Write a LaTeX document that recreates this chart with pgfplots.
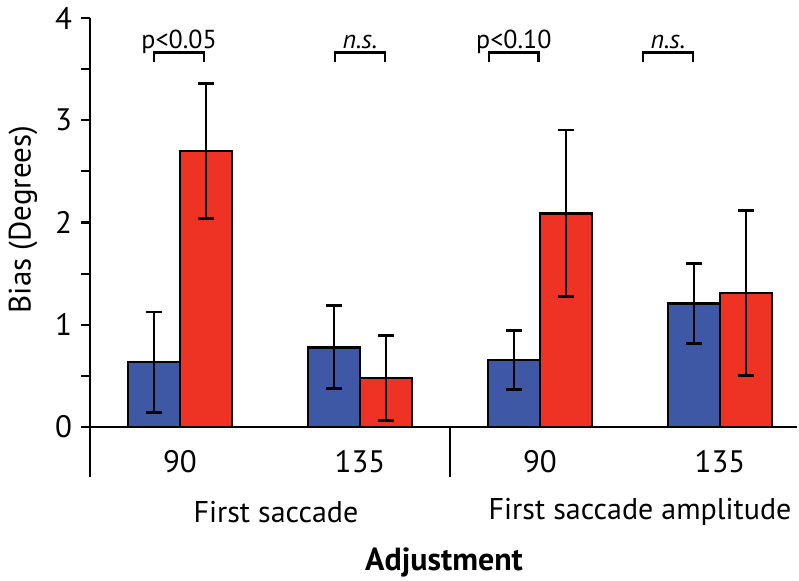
\documentclass[border=0pt]{standalone}
\usepackage{pgfplots}
\pgfplotsset{compat=1.18}
\usepackage{fontspec}
\setmainfont{PT Sans}
\definecolor{barblue}{RGB}{62,88,166}
\definecolor{barred}{RGB}{238,51,36}
\begin{document}
\begin{tikzpicture}
\begin{axis}[name=ax, scale only axis, width=353.5pt, height=204.5pt,
 xmin=0.5, xmax=4.428, ymin=0, ymax=4,
 axis x line*=bottom, axis y line*=left,
 axis line style={line width=1.1pt, black},
 ybar=0pt, bar width=26pt,
 ytick={0,1,2,3,4}, minor ytick={0.5,1.5,2.5,3.5},
 tick align=outside, major tick length=4.5pt, minor tick length=4.5pt,
 ytick style={line width=1.1pt, black},
 xtick={1,2,3,4}, xticklabels={90,135,90,135},
 xtick style={draw=none},
 xticklabel style={anchor=center, yshift=-13pt},
 yticklabel style={xshift=-1pt},
 ticklabel style={font=\fontsize{15.5}{17}\selectfont},
 /pgf/number format/assume math mode=true,
 ylabel={Bias (Degrees)},
 every axis y label/.style={at={(axis description cs:0,0.5)}, xshift=-33.5pt, yshift=1.5pt, rotate=90, anchor=center, font=\fontsize{15.5}{17}\selectfont},
 clip=false,
]
\addplot[fill=barblue, draw=black, line width=1.3pt,
 error bars/.cd, y dir=both, y explicit,
 error bar style={line width=1.4pt, black},
 error mark options={rotate=90, mark size=3.9pt, line width=1.4pt, black}]
 coordinates {
 (1,0.635) +- (0,0.49)
 (2,0.78) +- (0,0.405)
 (3,0.655) +- (0,0.29)
 (4,1.21) +- (0,0.39)
 };
\addplot[fill=barred, draw=black, line width=1.3pt,
 error bars/.cd, y dir=both, y explicit,
 error bar style={line width=1.4pt, black},
 error mark options={rotate=90, mark size=3.9pt, line width=1.4pt, black}]
 coordinates {
 (1,2.70) +- (0,0.66)
 (2,0.48) +- (0,0.415)
 (3,2.09) +- (0,0.815)
 (4,1.31) +- (0,0.81)
 };
% separators below axis
\draw[line width=1pt] (axis cs:0.5,0) -- (axis cs:0.5,-0.489);
\draw[line width=1pt] (axis cs:2.5,0) -- (axis cs:2.5,-0.489);
% brackets
\draw[line width=1.4pt] (axis cs:0.856,3.57) -- (axis cs:0.856,3.66) -- (axis cs:1.133,3.66) -- (axis cs:1.133,3.57);
\draw[line width=1.4pt] (axis cs:1.861,3.57) -- (axis cs:1.861,3.66) -- (axis cs:2.139,3.66) -- (axis cs:2.139,3.57);
\draw[line width=1.4pt] (axis cs:2.717,3.57) -- (axis cs:2.717,3.66) -- (axis cs:2.994,3.66) -- (axis cs:2.994,3.57);
\draw[line width=1.4pt] (axis cs:3.572,3.57) -- (axis cs:3.572,3.66) -- (axis cs:3.850,3.66) -- (axis cs:3.850,3.57);
\node[anchor=base, font=\fontsize{13}{15}\selectfont] at (axis cs:0.995,3.70) {p<0.05};
\node[anchor=base, font=\fontsize{13}{15}\selectfont\itshape] at (axis cs:2.0,3.70) {n.s.};
\node[anchor=base, font=\fontsize{13}{15}\selectfont] at (axis cs:2.855,3.70) {p<0.10};
\node[anchor=base, font=\fontsize{13}{15}\selectfont\itshape] at (axis cs:3.711,3.70) {n.s.};
% group labels
\node[font=\fontsize{15}{17}\selectfont] at (axis cs:1.533,-0.831) {First saccade};
\node[font=\fontsize{15}{17}\selectfont] at (axis cs:3.556,-0.831) {First saccade amplitude};
\node[font=\fontsize{16}{18}\selectfont\bfseries] at (axis cs:2.467,-1.320) {Adjustment};
\end{axis}
\pgfresetboundingbox
\useasboundingbox ([shift={(-45pt,-76.5pt)}]ax.south west) rectangle ([shift={(354.5pt,213.5pt)}]ax.south west);
\end{tikzpicture}
\end{document}
